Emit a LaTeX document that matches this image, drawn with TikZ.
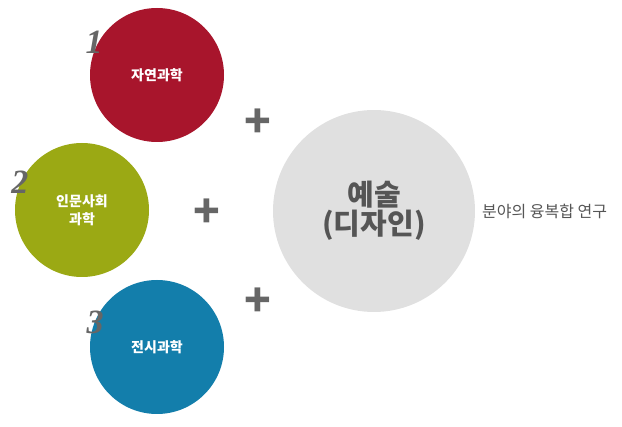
\documentclass[tikz,border=0pt]{standalone}
\usepackage{fontspec}
\setmainfont{Noto Sans CJK KR}
\newfontfamily\numfont{Liberation Serif}
\usetikzlibrary{positioning}
\definecolor{natred}{HTML}{A8152C}
\definecolor{humgreen}{HTML}{9BA914}
\definecolor{exhblue}{HTML}{137EAB}
\definecolor{artgray}{HTML}{E0E0E0}
\definecolor{txtgray}{HTML}{555555}
\definecolor{numgray}{HTML}{666666}

\begin{document}
\begin{tikzpicture}[x=1pt,y=-1pt,
    field/.style={circle, inner sep=0pt, minimum size=134pt, text=white, align=center,
        font=\fontsize{14}{18}\selectfont\bfseries},
    fieldnum/.style={text=numgray, font=\numfont\bfseries\itshape\fontsize{34}{34}\selectfont},
    plussign/.style={text=numgray, inner sep=0pt, font=\fontsize{44}{44}\selectfont\bfseries}]
    \useasboundingbox (0,0) rectangle (622,427);
    \node[field, fill=natred] (natural) at (157,75) {자연과학};
    \node[field, fill=humgreen] (human) at (82,210) {인문사회\\과학};
    \node[field, fill=exhblue] (exhibit) at (157,347) {전시과학};
    \node[circle, inner sep=0pt, minimum size=202pt, fill=artgray, text=txtgray, align=center,
        font=\fontsize{29}{29}\selectfont\bfseries] (art) at (374,211) {예술\\(디자인)};
    \node[text=txtgray, anchor=west, inner sep=0pt, font=\fontsize{16}{16}\selectfont] (desc) at (482,211) {분야의 융복합 연구};
    \node[fieldnum] (num1) at (94,42) {1};
    \node[fieldnum] (num2) at (20,182) {2};
    \node[fieldnum] (num3) at (95,322) {3};
    \node[plussign] (plusA) at (258,123) {+};
    \node[plussign] (plusB) at (207,213) {+};
    \node[plussign] (plusC) at (258,302) {+};
\end{tikzpicture}
\end{document}
